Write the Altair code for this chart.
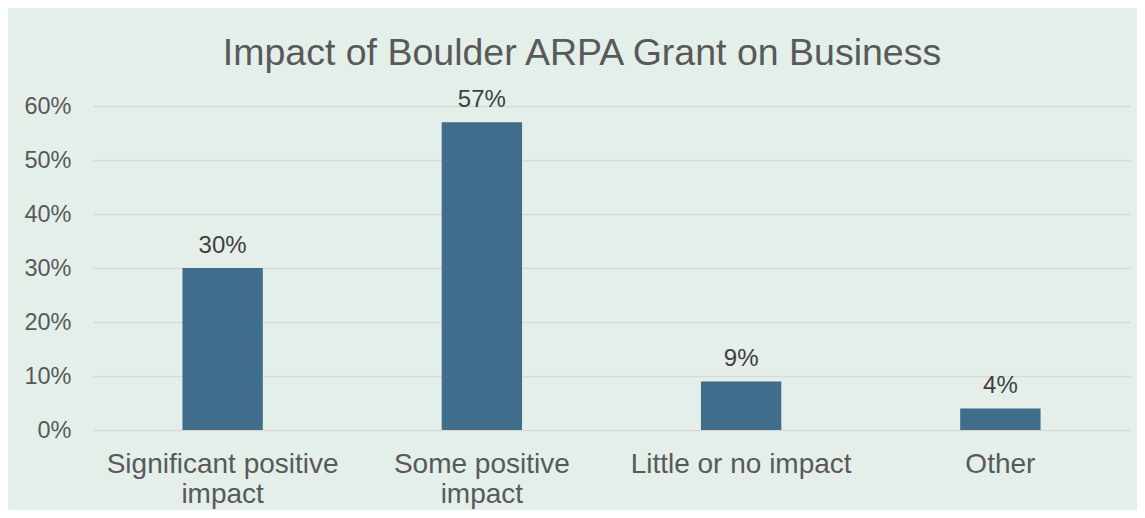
import altair as alt
import pandas as pd

categories = ["Significant positive impact", "Some positive impact", "Little or no impact", "Other"]
shares = [0.30, 0.57, 0.09, 0.04]
share_labels = ["30%", "57%", "9%", "4%"]

df = pd.DataFrame({"category": categories, "share": shares, "label": share_labels})

FONT = "Liberation Sans"
GREY = "#595959"

label_expr = (
    "datum.label == 'Significant positive impact' ? ['Significant positive', 'impact'] : "
    "datum.label == 'Some positive impact' ? ['Some positive', 'impact'] : datum.label"
)

x = alt.X(
    "category:N",
    sort=categories,
    scale=alt.Scale(paddingInner=0.69, paddingOuter=0.345),
    axis=alt.Axis(
        title=None, labelAngle=0, labelExpr=label_expr, labelFontSize=28,
        labelColor=GREY, labelFont=FONT, labelPadding=20, labelLineHeight=30,
        labelLimit=500, ticks=False, domain=False, grid=False,
    ),
)
y = alt.Y(
    "share:Q",
    scale=alt.Scale(domain=[0, 0.6], nice=False),
    axis=alt.Axis(
        title=None, format=".0%", values=[0, 0.1, 0.2, 0.3, 0.4, 0.5, 0.6],
        labelFontSize=23.5, labelColor=GREY, labelFont=FONT, labelPadding=22,
        ticks=False, domain=False, grid=True, gridColor="#D9D9D9", gridWidth=1.5,
    ),
)

bars = alt.Chart(df).mark_bar(color="#3F6D8B").encode(x=x, y=y)
text = alt.Chart(df).mark_text(
    baseline="bottom", dy=-10, fontSize=24, font=FONT, color="#404040"
).encode(x=x, y=y, text="label:N")

chart = (
    alt.layer(bars, text)
    .properties(
        width=1037,
        height=324,
        title=alt.TitleParams(
            text="Impact of Boulder ARPA Grant on Business",
            fontSize=37.5, font=FONT, color=GREY, fontWeight="normal",
            anchor="middle", frame="bounds", offset=16, dx=5,
        ),
        background="#E4EFEA",
        padding={"left": 85, "top": 98, "right": 7, "bottom": 80},
        autosize=alt.AutoSizeParams(type="none"),
    )
    .configure_view(stroke=None)
)

chart.save("out.html", embed_options={"renderer": "svg", "actions": False})
